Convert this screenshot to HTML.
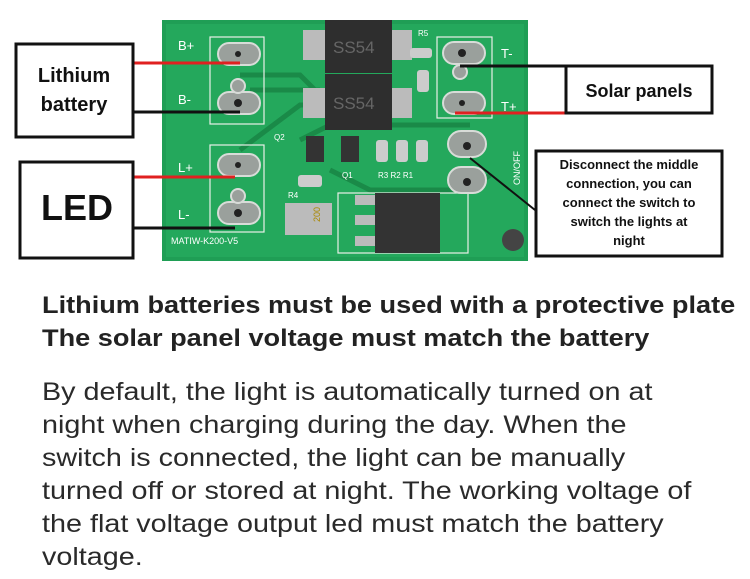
<!DOCTYPE html>
<html><head><meta charset="utf-8"><style>
body{margin:0;width:750px;height:579px;background:#fff;overflow:hidden;font-family:"Liberation Sans",sans-serif;position:relative}
.t{position:absolute;left:42px;color:#222;white-space:nowrap;transform-origin:0 0}
.b{font-weight:bold;font-size:24px;transform:scaleX(1.13)}
.r{font-size:25px;color:#2a2a2a;transform:scaleX(1.15)}
</style></head><body>
<svg width="750" height="270" style="position:absolute;left:0;top:0" font-family="Liberation Sans, sans-serif">
<rect x="162" y="20" width="366" height="241" fill="#1f9e55"/>
<rect x="166" y="24" width="358" height="233" fill="#24a85c"/>
<g stroke="#1a8a48" stroke-width="5" fill="none">
<path d="M240 75 L300 75 L320 95 L330 95"/><path d="M240 150 L300 105 L340 105"/><path d="M300 140 L330 125 L470 125"/><path d="M330 170 L370 190 L470 190 L490 175"/><path d="M250 90 L320 90"/>
</g>
<g fill="none" stroke="#e8f0e8" stroke-width="1.2">
<rect x="210" y="37" width="54" height="87"/><rect x="210" y="145" width="54" height="87"/><rect x="437" y="37" width="55" height="81"/><rect x="338" y="193" width="130" height="60"/>
</g>
<g fill="#9aa09c" stroke="#d8dcd8" stroke-width="2">
<rect x="218" y="43" width="42" height="22" rx="11"/><rect x="218" y="92" width="42" height="22" rx="11"/><circle cx="238" cy="86" r="7"/>
<rect x="218" y="154" width="42" height="22" rx="11"/><rect x="218" y="202" width="42" height="22" rx="11"/><circle cx="238" cy="196" r="7"/>
<rect x="443" y="42" width="42" height="22" rx="11"/><circle cx="460" cy="72" r="7"/><rect x="443" y="92" width="42" height="22" rx="11"/>
<rect x="448" y="131" width="38" height="26" rx="13"/><rect x="448" y="167" width="38" height="26" rx="13"/>
</g>
<g fill="#222"><circle cx="238" cy="54" r="3"/><circle cx="238" cy="103" r="4"/><circle cx="238" cy="165" r="3"/><circle cx="238" cy="213" r="4"/><circle cx="462" cy="53" r="4"/><circle cx="462" cy="103" r="3"/><circle cx="467" cy="146" r="4"/><circle cx="467" cy="182" r="4"/></g>
<rect x="303" y="30" width="22" height="30" fill="#bbb"/><rect x="390" y="30" width="22" height="30" fill="#bbb"/>
<rect x="303" y="88" width="22" height="30" fill="#bbb"/><rect x="390" y="88" width="22" height="30" fill="#bbb"/>
<rect x="325" y="20" width="67" height="53" fill="#2e2e2e"/><rect x="325" y="74" width="67" height="56" fill="#2e2e2e"/>
<text x="333" y="53" font-size="17" fill="#666">SS54</text><text x="333" y="109" font-size="17" fill="#666">SS54</text>
<rect x="410" y="48" width="22" height="10" rx="3" fill="#ccc"/><rect x="417" y="70" width="12" height="22" rx="3" fill="#ccc"/>
<g fill="#ccc"><rect x="376" y="140" width="12" height="22" rx="3"/><rect x="396" y="140" width="12" height="22" rx="3"/><rect x="416" y="140" width="12" height="22" rx="3"/><rect x="298" y="175" width="24" height="12" rx="3"/></g>
<rect x="306" y="136" width="18" height="26" fill="#333"/><rect x="341" y="136" width="18" height="26" fill="#333"/>
<rect x="285" y="203" width="47" height="32" fill="#bbb"/><text x="312" y="230" font-size="9" fill="#a80" transform="rotate(-90 312 222)">200</text>
<rect x="355" y="195" width="20" height="10" fill="#bbb"/><rect x="355" y="215" width="20" height="10" fill="#bbb"/><rect x="355" y="236" width="20" height="10" fill="#bbb"/>
<rect x="375" y="193" width="65" height="60" fill="#333"/>
<circle cx="513" cy="240" r="11" fill="#444"/>
<g fill="#fff" font-size="13"><text x="178" y="50">B+</text><text x="178" y="104">B-</text><text x="178" y="172">L+</text><text x="178" y="219">L-</text><text x="501" y="58">T-</text><text x="501" y="111">T+</text></g>
<g fill="#fff" font-size="8"><text x="418" y="36">R5</text><text x="274" y="140">Q2</text><text x="342" y="178">Q1</text><text x="378" y="178">R3 R2 R1</text><text x="288" y="198">R4</text><text x="171" y="244" font-size="9">MATIW-K200-V5</text></g>
<text x="520" y="185" font-size="9" fill="#fff" transform="rotate(-90 520 185)">ON/OFF</text>
<g stroke-width="3"><line x1="133" y1="63" x2="240" y2="63" stroke="#e02020"/><line x1="133" y1="112" x2="240" y2="112" stroke="#111"/><line x1="133" y1="177" x2="235" y2="177" stroke="#e02020"/><line x1="133" y1="228" x2="235" y2="228" stroke="#111"/><line x1="460" y1="66" x2="566" y2="66" stroke="#111"/><line x1="455" y1="113" x2="566" y2="113" stroke="#e02020"/></g>
<line x1="470" y1="158" x2="535" y2="210" stroke="#111" stroke-width="2"/>
<g fill="#fff" stroke="#111" stroke-width="3"><rect x="16" y="44" width="117" height="93"/><rect x="20" y="162" width="113" height="96"/><rect x="566" y="66" width="146" height="47"/><rect x="536" y="151" width="186" height="105"/></g>
<g fill="#111" font-weight="bold" text-anchor="middle"><text x="74" y="82" font-size="20">Lithium</text><text x="74" y="111" font-size="20">battery</text><text x="77" y="220" font-size="36">LED</text><text x="639" y="97" font-size="18">Solar panels</text>
<g font-size="13"><text x="629" y="169">Disconnect the middle</text><text x="629" y="188">connection, you can</text><text x="629" y="207">connect the switch to</text><text x="629" y="226">switch the lights at</text><text x="629" y="245">night</text></g></g>
</svg>
<div class="t b" style="top:292px">Lithium batteries must be used with a protective plate</div>
<div class="t b" style="top:325px">The solar panel voltage must match the battery</div>
<div class="t r" style="top:378px">By default, the light is automatically turned on at</div>
<div class="t r" style="top:411px">night when charging during the day. When the</div>
<div class="t r" style="top:444px">switch is connected, the light can be manually</div>
<div class="t r" style="top:477px">turned off or stored at night. The working voltage of</div>
<div class="t r" style="top:510px">the flat voltage output led must match the battery</div>
<div class="t r" style="top:543px">voltage.</div>
</body></html>
